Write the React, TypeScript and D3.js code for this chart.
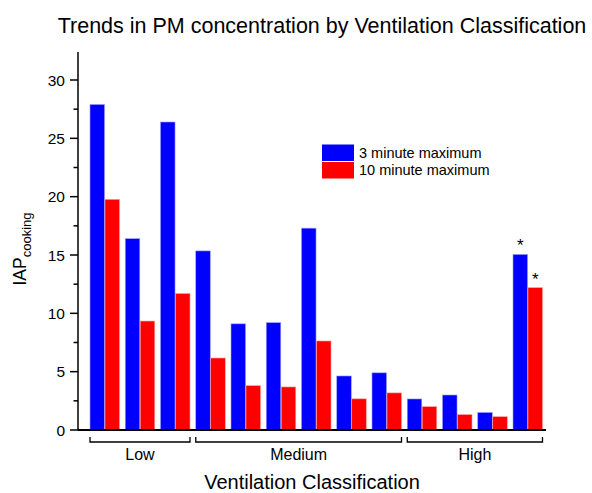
import React from 'react';
import { scaleBand, scaleLinear, range } from 'd3';

// one entry per site, grouped by ventilation class
const groups = ['Low', 'Medium', 'High'];
const groupSizes = [3, 6, 4];
const max3 = [27.9, 16.4, 26.4, 15.35, 9.1, 9.2, 17.3, 4.63, 4.9, 2.66, 3.0, 1.5, 15.05];
const max10 = [19.77, 9.34, 11.7, 6.17, 3.8, 3.69, 7.63, 2.67, 3.18, 2.0, 1.32, 1.14, 12.2];
const starred = [12];
const yTicks = [0, 5, 10, 15, 20, 25, 30];
const seriesNames = ['3 minute maximum', '10 minute maximum'];
const colors = ['#0000ff', '#ff0000'];

const W = 592;
const H = 493;
const FONT = 'Arial, "Liberation Sans", sans-serif';

export default function App() {
  const x0 = 78;
  const x1 = 546;
  const y = scaleLinear().domain([0, 32.4]).range([430, 52]);

  const x = scaleBand<number>()
    .domain(range(max3.length))
    .range([90, 542.5])
    .paddingInner(0.163)
    .paddingOuter(0);
  const bw = x.bandwidth();
  const sub = scaleBand<number>().domain([0, 1]).range([0, bw]).paddingInner(0.03);

  const minorTicks = range(2.5, 32.4, 5);

  // group bracket spans
  let start = 0;
  const spans = groupSizes.map((n, gi) => {
    const a = x(start)!;
    const b = x(start + n - 1)! + bw;
    start += n;
    return { name: groups[gi], a, b };
  });

  return (
    <svg width={W} height={H} style={{ display: 'block', position: 'absolute', left: 0, top: 0, background: '#fff' }} fontFamily={FONT}>
      <text x={322} y={33} textAnchor="middle" fontSize={21.5}>
        Trends in PM concentration by Ventilation Classification
      </text>

      {max3.map((v, i) => (
        <g key={i} transform={`translate(${x(i)},0)`}>
          <rect x={sub(0)} y={y(v)} width={sub.bandwidth()} height={y(0) - y(v)} fill={colors[0]} stroke="#9a9aff" strokeWidth={0.6} />
          <rect x={sub(1)} y={y(max10[i])} width={sub.bandwidth()} height={y(0) - y(max10[i])} fill={colors[1]} stroke="#ff9a9a" strokeWidth={0.6} />
        </g>
      ))}

      {starred.map((i) => (
        <g key={i} fontSize={17} textAnchor="middle">
          <text x={x(i)! + sub(0)! + sub.bandwidth() / 2} y={y(max3[i]) - 3}>*</text>
          <text x={x(i)! + sub(1)! + sub.bandwidth() / 2} y={y(max10[i]) - 3}>*</text>
        </g>
      ))}

      {/* y axis */}
      <line x1={x0} x2={x0} y1={y.range()[1]} y2={y(0)} stroke="#000" strokeWidth={1.5} />
      {yTicks.map((t) => (
        <g key={t}>
          <line x1={x0 - 8} x2={x0} y1={y(t)} y2={y(t)} stroke="#000" strokeWidth={1.5} />
          <text x={65} y={y(t) + 5.5} textAnchor="end" fontSize={15.5}>{t}</text>
        </g>
      ))}
      {minorTicks.map((t) => (
        <line key={t} x1={x0 - 4.5} x2={x0} y1={y(t)} y2={y(t)} stroke="#000" strokeWidth={1.5} />
      ))}
      <line x1={x0} x2={x1} y1={y(0)} y2={y(0)} stroke="#000" strokeWidth={1.8} />

      <text transform="translate(26,249) rotate(-90)" textAnchor="middle" fontSize={17.5}>
        IAP<tspan fontSize={13} dy={5}>cooking</tspan>
      </text>

      {/* group brackets */}
      {spans.map((s) => (
        <g key={s.name}>
          <path d={`M${s.a},437 V442 H${s.b} V437`} fill="none" stroke="#000" strokeWidth={1.3} />
          <text x={(s.a + s.b) / 2} y={460} textAnchor="middle" fontSize={16}>{s.name}</text>
        </g>
      ))}

      <text x={312} y={489} textAnchor="middle" fontSize={20}>Ventilation Classification</text>

      {/* legend */}
      {seriesNames.map((n, i) => (
        <g key={n} transform={`translate(322,${144.5 + i * 17.5})`}>
          <rect width={32} height={16.5} fill={colors[i]} />
          <text x={37} y={13} fontSize={14.5}>{n}</text>
        </g>
      ))}
    </svg>
  );
}
